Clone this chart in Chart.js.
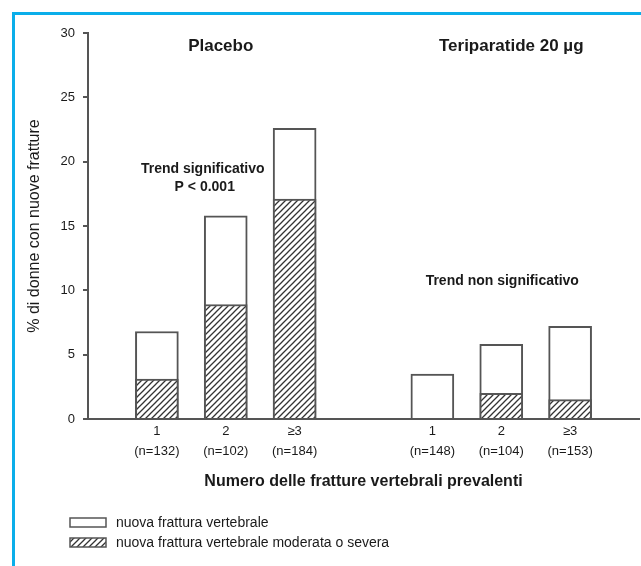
<!DOCTYPE html>
<html>
<head>
<meta charset="utf-8">
<script src="https://cdn.jsdelivr.net/npm/chart.js@4.4.1/dist/chart.umd.min.js"></script>
<style>
  html, body { margin: 0; padding: 0; background: #fff; }
  #wrap { position: relative; width: 641px; height: 566px; overflow: hidden; }
  #frame { position: absolute; left: 12px; top: 12px; width: 700px; height: 600px;
           border-left: 3px solid #0aaeea; border-top: 3px solid #0aaeea; }
  #chart { position: absolute; left: 0; top: 0; }
</style>
</head>
<body>
<div id="wrap">
  <div id="frame"></div>
  <canvas id="chart" width="641" height="566"></canvas>
</div>
<script>
// dati (% di donne con nuove fratture)
const groups = ['Placebo', 'Teriparatide 20 µg'];
const categories = ['1', '2', '≥3'];
const nPlacebo = [132, 102, 184];
const nTeri = [148, 104, 153];
const anyPlacebo = [6.8, 15.8, 22.6];      // nuova frattura vertebrale
const severePlacebo = [3.1, 8.9, 17.1];    // moderata o severa
const anyTeri = [3.5, 5.8, 7.2];
const severeTeri = [0, 2.0, 1.5];
const yTicks = [0, 5, 10, 15, 20, 25, 30];
const trendNotes = ['Trend significativo', 'P < 0.001', 'Trend non significativo'];
const seriesNames = ['nuova frattura vertebrale', 'nuova frattura vertebrale moderata o severa'];
const yTitle = '% di donne con nuove fratture';
const xTitle = 'Numero delle fratture vertebrali prevalenti';

const FONT = '"Liberation Sans", Arial, sans-serif';
const INK = '#1a1a1a';
const LINE = '#555';
Chart.defaults.font.family = FONT;
Chart.defaults.color = INK;

// etichette: slot vuoto all'inizio, tra i gruppi e alla fine
function tickLabels(ns) {
  return categories.map((c, i) => [c, '(n=' + ns[i] + ')']);
}
const labels = [''].concat(tickLabels(nPlacebo), [''], tickLabels(nTeri), ['']);
function slots(a, b) {
  return [null].concat(a, [null], b, [null]);
}

const canvas = document.getElementById('chart');
const ctx = canvas.getContext('2d');

// tratteggio diagonale ////
function hatch() {
  const c = document.createElement('canvas');
  c.width = 6; c.height = 6;
  const g = c.getContext('2d');
  g.fillStyle = '#fff';
  g.fillRect(0, 0, 6, 6);
  g.strokeStyle = '#333';
  g.lineWidth = 1.3;
  g.beginPath();
  g.moveTo(0, 6); g.lineTo(6, 0);
  g.moveTo(-1, 1); g.lineTo(1, -1);
  g.moveTo(5, 7); g.lineTo(7, 5);
  g.stroke();
  return ctx.createPattern(c, 'repeat');
}
const hatchFill = hatch();

const notesPlugin = {
  id: 'notes',
  afterDraw(chart) {
    const c = chart.ctx, x = chart.scales.x, y = chart.scales.y;
    c.save();
    c.fillStyle = INK;
    c.textAlign = 'center';
    c.textBaseline = 'middle';
    c.font = 'bold 17px ' + FONT;
    c.fillText(groups[0], x.getPixelForValue(2) - 5, y.getPixelForValue(29));
    c.fillText(groups[1], x.getPixelForValue(6) + 10, y.getPixelForValue(29));
    c.font = 'bold 14px ' + FONT;
    c.fillText(trendNotes[0], x.getPixelForValue(2) - 23, y.getPixelForValue(19.4));
    c.fillText(trendNotes[1], x.getPixelForValue(2) - 21, y.getPixelForValue(18.0));
    c.fillText(trendNotes[2], x.getPixelForValue(6) + 1, y.getPixelForValue(10.7));

    // legenda in basso a sinistra
    c.textAlign = 'left';
    c.font = '14px ' + FONT;
    chart.data.datasets.forEach((ds, i) => {
      const top = 518 + i * 20;
      c.fillStyle = ds.backgroundColor;
      c.fillRect(70, top, 36, 9);
      c.strokeStyle = LINE;
      c.lineWidth = 1.5;
      c.strokeRect(70, top, 36, 9);
      c.fillStyle = INK;
      c.fillText(ds.label, 116, top + 5);
    });
    c.restore();
  }
};

new Chart(ctx, {
  type: 'bar',
  data: {
    labels: labels,
    datasets: [
      {
        label: seriesNames[0],
        data: slots(anyPlacebo, anyTeri),
        backgroundColor: '#fff',
        borderColor: LINE,
        borderWidth: 2,
        order: 2
      },
      {
        label: seriesNames[1],
        data: slots(severePlacebo, severeTeri),
        backgroundColor: hatchFill,
        borderColor: LINE,
        borderWidth: 2,
        order: 1
      }
    ]
  },
  options: {
    responsive: false,
    animation: false,
    events: [],
    layout: { padding: { left: 0, top: 33, right: 0, bottom: 72 } },
    datasets: { bar: { grouped: false, barThickness: 43 } },
    plugins: { legend: { display: false }, tooltip: { enabled: false } },
    scales: {
      x: {
        offset: false,
        grid: { display: false, drawTicks: false },
        border: { display: true, color: LINE, width: 2 },
        ticks: {
          autoSkip: false, maxRotation: 0, padding: 2, color: INK,
          font: { size: 13, lineHeight: '20px' }
        },
        title: {
          display: true, text: xTitle, color: INK,
          font: { size: 16, weight: 'bold' }, padding: { top: 0, bottom: 3 }
        },
        afterFit: s => { s.height = 75; }
      },
      y: {
        min: 0, max: 30,
        afterBuildTicks: s => { s.ticks = yTicks.map(v => ({ value: v })); },
        grid: { drawOnChartArea: false, drawTicks: true, tickLength: 5, color: LINE, lineWidth: 2 },
        border: { display: true, color: LINE, width: 2 },
        ticks: { padding: 8, color: INK, font: { size: 13 } },
        title: {
          display: true, text: yTitle, color: INK,
          font: { size: 16 }, padding: { top: 25, bottom: 0 }
        },
        afterFit: s => { s.width = 88; }
      }
    }
  },
  plugins: [notesPlugin]
});
</script>
</body>
</html>
